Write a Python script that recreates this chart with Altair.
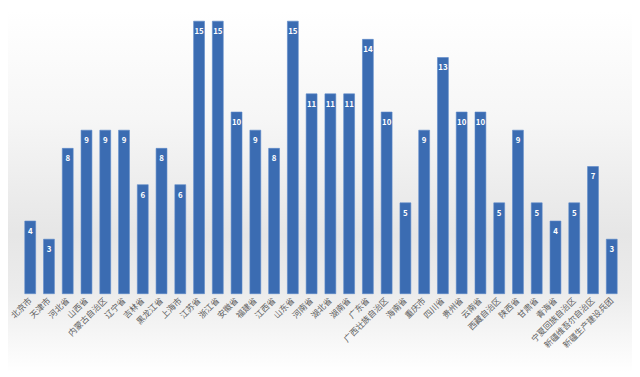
import altair as alt
import pandas as pd

provinces = ["北京市", "天津市", "河北省", "山西省", "内蒙古自治区", "辽宁省", "吉林省", "黑龙江省",
             "上海市", "江苏省", "浙江省", "安徽省", "福建省", "江西省", "山东省", "河南省",
             "湖北省", "湖南省", "广东省", "广西壮族自治区", "海南省", "重庆市", "四川省", "贵州省",
             "云南省", "西藏自治区", "陕西省", "甘肃省", "青海省", "宁夏回族自治区",
             "新疆维吾尔自治区", "新疆生产建设兵团"]
counts = [4, 3, 8, 9, 9, 9, 6, 8,
          6, 15, 15, 10, 9, 8, 15, 11,
          11, 11, 14, 10, 5, 9, 13, 10,
          10, 5, 9, 5, 4, 5,
          7, 3]

df = pd.DataFrame({"province": provinces, "count": counts})

W, H = 608, 276
PL, PT, PR, PB = 13, 11, 11, 80
FONT = "Noto Sans CJK SC"

grad = alt.Gradient(
    gradient="linear", x1=0, y1=0, x2=0, y2=1,
    stops=[
        alt.GradientStop(color="#ffffff", offset=0),
        alt.GradientStop(color="#f6f6f6", offset=0.3),
        alt.GradientStop(color="#e6e6e6", offset=0.62),
        alt.GradientStop(color="#ececec", offset=0.78),
        alt.GradientStop(color="#ffffff", offset=1),
    ],
)

bg = alt.Chart(df).mark_rect(color=grad).encode(
    x=alt.value(-PL), x2=alt.value(W + PR),
    y=alt.value(-PT), y2=alt.value(H + PB),
)

xaxis = alt.Axis(title=None, labelAngle=-45, labelAlign="right", labelBaseline="middle",
                 labelFontSize=8.5, labelColor="#606060", labelFont=FONT,
                 labelPadding=5, ticks=False, domain=False, grid=False, labelOverlap=False,
                 zindex=1)
xenc = alt.X("province:N", sort=None,
             scale=alt.Scale(paddingInner=0.42, paddingOuter=0.21),
             axis=xaxis)
yenc = alt.Y("count:Q", scale=alt.Scale(domain=[0, 15], nice=False), axis=None)

bars = alt.Chart(df).mark_bar(color="#3b6cb2", stroke="#5b88c8", strokeWidth=0.6).encode(
    x=xenc, y=yenc
)

labels = alt.Chart(df).mark_text(color="#ffffff", fontSize=8, font=FONT, fontWeight="bold",
                                 baseline="middle", dy=11).encode(
    x=alt.X("province:N", sort=None, axis=xaxis), y=alt.Y("count:Q", axis=None), text="count:Q"
)

chart = alt.layer(bg, bars, labels).properties(
    width=W, height=H,
    autosize=alt.AutoSizeParams(type="none"),
    padding={"left": PL, "top": PT, "right": PR, "bottom": PB},
    background="#ffffff",
).configure_view(stroke=None)

chart.save("out.html", embed_options={"renderer": "svg", "actions": False})
